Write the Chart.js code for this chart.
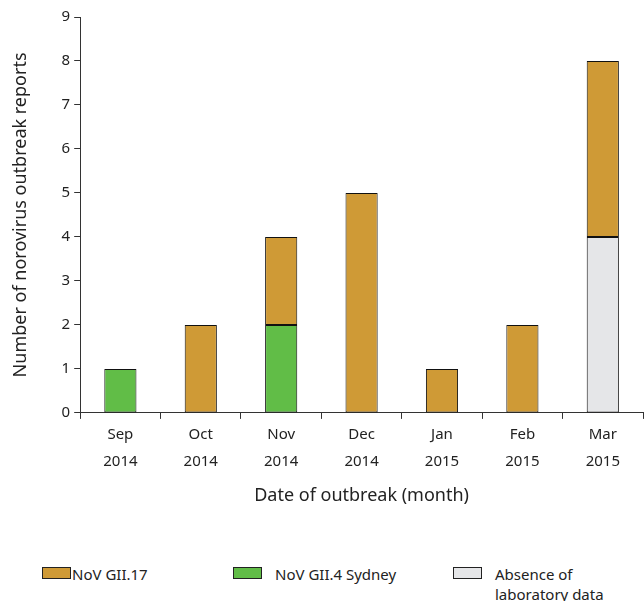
<!DOCTYPE html>
<html>
<head>
<meta charset="utf-8">
<script src="https://cdn.jsdelivr.net/npm/chart.js@4/dist/chart.umd.min.js"></script>
<style>
  body { margin: 0; background: #fff; font-family: "Noto Sans", sans-serif; color: #222; }
  #wrap { position: relative; width: 644px; height: 601px; }
  #chartBox { position: absolute; left: 0; top: 0; width: 644px; height: 511px; }
  .legend { position: absolute; top: 564px; font-size: 15px; line-height: 20px; }
  .legend .box { position: absolute; left: 0; top: 3px; width: 29px; height: 12px; border: 1px solid #222; box-sizing: border-box; }
  .legend .txt { position: absolute; white-space: nowrap; }
</style>
</head>
<body>
<div id="wrap">
  <div id="chartBox"><canvas id="norovirusChart"></canvas></div>
  <div id="legend"></div>
</div>
<script>
const months = [['Sep', '2014'], ['Oct', '2014'], ['Nov', '2014'], ['Dec', '2014'], ['Jan', '2015'], ['Feb', '2015'], ['Mar', '2015']];
const gii4Sydney = [1, 0, 2, 0, 0, 0, 0];
const noLabData = [0, 0, 0, 0, 0, 0, 4];
const gii17 = [0, 2, 2, 5, 1, 2, 4];
const yTicks = [0, 1, 2, 3, 4, 5, 6, 7, 8, 9];

const colors = {
    gii17: '#cf9a36',
    gii4: '#61bd47',
    noLab: '#e5e6e8'
};

// zeros are left out so no empty border is drawn
const nz = arr => arr.map(v => v === 0 ? null : v);

const ctx = document.getElementById('norovirusChart').getContext('2d');
new Chart(ctx, {
    type: 'bar',
    data: {
        labels: months,
        datasets: [
            { label: 'NoV GII.4 Sydney', data: nz(gii4Sydney), backgroundColor: colors.gii4 },
            { label: 'Absence of laboratory data', data: nz(noLabData), backgroundColor: colors.noLab },
            { label: 'NoV GII.17', data: nz(gii17), backgroundColor: colors.gii17 }
        ].map(d => Object.assign(d, {
            borderColor: '#111',
            borderWidth: 1,
            borderSkipped: false,
            barPercentage: 0.4,
            categoryPercentage: 1
        }))
    },
    options: {
        responsive: true,
        maintainAspectRatio: false,
        animation: false,
        layout: { padding: { top: 17, right: 1, left: 6 } },
        plugins: {
            legend: { display: false },
            tooltip: { enabled: false }
        },
        scales: {
            x: {
                stacked: true,
                border: { color: '#333', width: 1 },
                grid: { display: true, drawOnChartArea: false, drawTicks: true, tickLength: 6, color: '#333', offset: true },
                ticks: { color: '#222', font: { family: 'Noto Sans', size: 15, lineHeight: 1.75 }, padding: 3 },
                title: { display: true, text: 'Date of outbreak (month)', color: '#222', font: { family: 'Noto Sans', size: 18 }, padding: { top: 8 } }
            },
            y: {
                stacked: true,
                min: 0,
                max: 9,
                afterBuildTicks: axis => { axis.ticks = yTicks.map(v => ({ value: v })); },
                border: { color: '#333', width: 1 },
                grid: { display: true, drawOnChartArea: false, drawTicks: true, tickLength: 6, color: '#333' },
                ticks: { color: '#222', font: { family: 'Noto Sans', size: 15 }, padding: 4 },
                title: { display: true, text: 'Number of norovirus outbreak reports', color: '#222', font: { family: 'Noto Sans', size: 18 }, padding: { bottom: 26 } }
            }
        }
    }
});

// legend below the chart
const legendItems = [
    { label: ['NoV GII.17'], color: colors.gii17, x: 42 },
    { label: ['NoV GII.4 Sydney'], color: colors.gii4, x: 233 },
    { label: ['Absence of', 'laboratory data'], color: colors.noLab, x: 453 }
];
const legendEl = document.getElementById('legend');
legendItems.forEach(item => {
    const div = document.createElement('div');
    div.className = 'legend';
    div.style.left = item.x + 'px';
    div.innerHTML = '<span class="box" style="background:' + item.color + '"></span>' +
        '<span class="txt" style="left:' + (item.x === 42 ? 30 : 42) + 'px">' + item.label.join('<br>') + '</span>';
    legendEl.appendChild(div);
});
</script>
</body>
</html>
